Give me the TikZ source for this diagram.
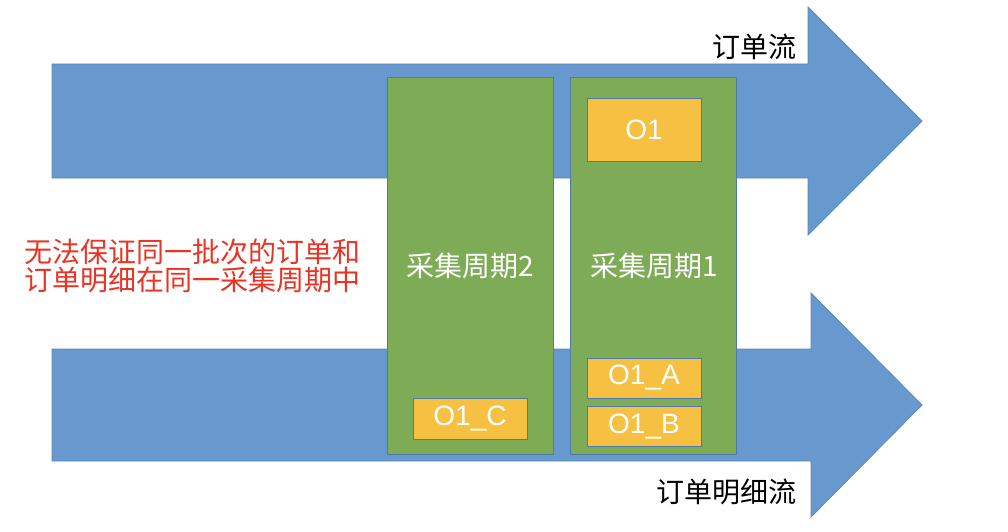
\documentclass[tikz,border=0pt]{standalone}
\usepackage{fontspec}
\setmainfont{Liberation Sans}
\newfontfamily\cjk{Noto Sans CJK SC}
\usepackage{xcolor}
\definecolor{flowBlue}{HTML}{6799CF}
\definecolor{flowEdge}{HTML}{5B88BA}
\definecolor{cycleGreen}{HTML}{7EAB55}
\definecolor{boxEdge}{HTML}{4F79A8}
\definecolor{orderYellow}{HTML}{F6C142}
\definecolor{warnRed}{HTML}{EA3323}
\usepackage{tikz}
\usetikzlibrary{positioning}
\tikzset{
    % Big flow arrows
    flow/.style={
        fill=flowBlue,
        draw=flowEdge,
        line width=0.8pt,
    },
    % Collection cycle column
    cycle box/.style={
        rectangle,
        fill=cycleGreen,
        draw=boxEdge,
        line width=0.8pt,
        minimum width=166,
        minimum height=377,
        inner sep=0pt,
        text=white,
        font=\cjk\fontsize{28}{28}\selectfont,
    },
    % Order record box
    order/.style={
        rectangle,
        fill=orderYellow,
        draw=boxEdge,
        line width=0.8pt,
        minimum width=114,
        minimum height=40,
        inner sep=0pt,
        text=white,
        font=\fontsize{28}{28}\selectfont,
    },
    % Stream names
    flow label/.style={
        font=\cjk\fontsize{28}{28}\selectfont,
        inner sep=0pt,
        anchor=east,
    },
}
\begin{document}
\begin{tikzpicture}[x=1pt, y=-1pt]
    \useasboundingbox (0,0) rectangle (1008,532);

    % order stream and order detail stream
    \draw [flow] (52,64) -- (808,64) -- (808,7) -- (922,121) -- (808,235)
        -- (808,178) -- (52,178) -- cycle;
    \draw [flow] (52,349) -- (811,349) -- (811,293) -- (922,405) -- (811,517)
        -- (811,461) -- (52,461) -- cycle;

    \node (order_flow) [flow label] at (797,47) {订单流};
    \node (detail_flow) [flow label] at (797,492) {订单明细流};

    % collection cycles
    \node (cycle2) [cycle box] at (470,265.5) {采集周期2};
    \node (cycle1) [cycle box, right=17pt of cycle2] {采集周期1};

    \node (o1) [order, minimum height=63] at (644,129.5) {O1};
    \node (o1_a) [order] at (644,378) {O1\_A};
    \node (o1_b) [order, below=8pt of o1_a] {O1\_B};
    \node (o1_c) [order, minimum height=41] at (470,418.5) {O1\_C};

    \node (note) [text=warnRed, align=center, inner sep=0pt,
        font=\cjk\fontsize{28}{28}\selectfont] at (192,266)
        {无法保证同一批次的订单和\\订单明细在同一采集周期中};
\end{tikzpicture}
\end{document}
